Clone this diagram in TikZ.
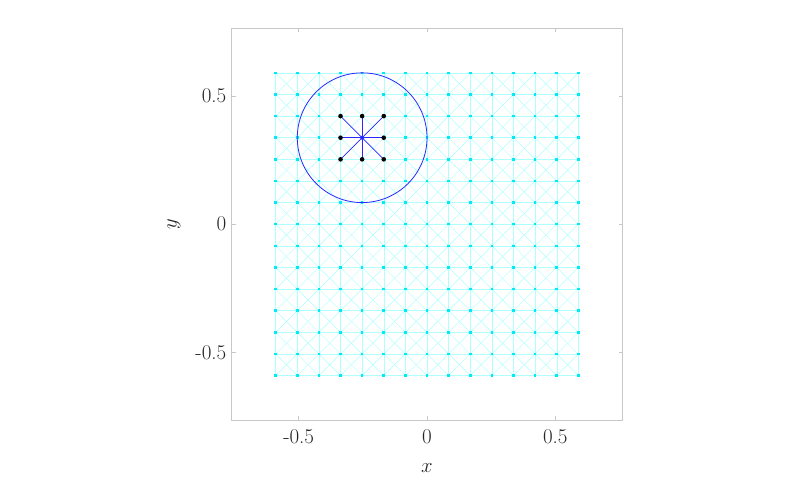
\documentclass[tikz,border=0pt]{standalone}
\begin{document}
\definecolor{meshcol}{RGB}{175,255,255}
\definecolor{ptcol}{RGB}{0,235,245}
\definecolor{circcol}{RGB}{40,40,255}
\definecolor{axcol}{RGB}{200,200,200}
\definecolor{txtcol}{RGB}{38,38,38}
\tikzset{
  meshline/.style={draw=meshcol, line width=0.45pt},
  gridpt/.style={fill=ptcol},
  stencilline/.style={draw=circcol, line width=0.8pt},
  stencilpt/.style={fill=black},
  axbox/.style={draw=axcol, line width=0.8pt},
  ticklabel/.style={text=txtcol, font=\fontsize{21}{25}\selectfont, inner sep=0pt},
}
\begin{tikzpicture}[x=1pt,y=-1pt]
\useasboundingbox (0,0) rectangle (801,486);
% axes box
\draw[axbox] (231.5,28.3) rectangle (622.5,420);
\foreach \t in {298.7,427,555.3} {
  \draw[axbox] (\t,420) -- (\t,416);
  \draw[axbox] (\t,28.3) -- (\t,32.3);
}
\foreach \t in {96,224.2,352.4} {
  \draw[axbox] (231.5,\t) -- (235.5,\t);
  \draw[axbox] (622.5,\t) -- (618.5,\t);
}
% tick labels
\node[ticklabel] (xl1) at (298.7,437) {-0.5};
\node[ticklabel] (xl2) at (427,437) {0};
\node[ticklabel] (xl3) at (555.3,437) {0.5};
\node[ticklabel, anchor=east] (yl1) at (226.5,96) {0.5};
\node[ticklabel, anchor=east] (yl2) at (226.5,224.2) {0};
\node[ticklabel, anchor=east] (yl3) at (226.5,352.4) {-0.5};
\node[ticklabel] (xlab) at (427,468) {$x$};
\node[ticklabel, rotate=90] (ylab) at (174,224.2) {$y$};
% mesh
\begin{scope}[shift={(427,224.2)}, x=21.62pt, y=21.62pt]
  \foreach \i in {-7,...,7} {
    \draw[meshline] (\i,-7) -- (\i,7);
    \draw[meshline] (-7,\i) -- (7,\i);
  }
  \foreach \i in {-7,...,6} {
    \foreach \j in {-7,...,6} {
      \draw[meshline] (\i,\j) -- ({\i+1},{\j+1});
      \draw[meshline] ({\i+1},\j) -- (\i,{\j+1});
    }
  }
  \foreach \i in {-7,...,7} {
    \foreach \j in {-7,...,7} {
      \fill[gridpt] (\i,\j) ++(-1.3pt,-1.3pt) rectangle ++(2.6pt,2.6pt);
    }
  }
  % stencil
  \coordinate (c) at (-3,4);
  \draw[stencilline] (c) circle[radius=64.86pt];
  \foreach \dx/\dy [count=\k] in {-1/1,0/1,1/1,-1/0,1/0,-1/-1,0/-1,1/-1} {
    \coordinate (n\k) at ({-3+\dx},{4+\dy});
    \draw[stencilline] (c) -- (n\k);
    \fill[stencilpt] (n\k) circle[radius=2.3pt];
  }
  \fill[circcol] (c) circle[radius=2pt];
\end{scope}
\end{tikzpicture}
\end{document}
